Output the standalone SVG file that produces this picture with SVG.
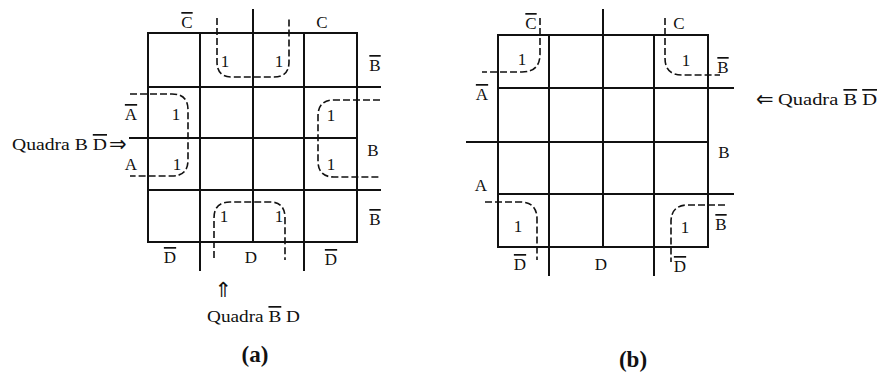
<svg xmlns="http://www.w3.org/2000/svg" width="880" height="377" viewBox="0 0 880 377">
<style>
.g{stroke:#111;stroke-width:2;fill:none;stroke-linecap:square}
.d{stroke:#111;stroke-width:1.6;fill:none;stroke-dasharray:7 3}
text{font-family:"Liberation Serif","DejaVu Serif",serif;font-size:17px;fill:#111}
.c{text-anchor:middle}
.o{text-decoration:overline}
.ar{font-family:"DejaVu Sans",sans-serif;font-size:21px}
.cap{font-size:23px;font-weight:bold}
</style>
<rect width="880" height="377" fill="#fff"/>
<g id="map-a">
  <g id="grid-a">
    <path class="g" d="M148,33H357V242H148Z M200,33V270 M253,10V242 M304,33V270 M148,87H380 M130,138H357 M148,190H380"/>
  </g>
  <g id="loops-a">
    <path class="d" d="M217,18V62Q217,77 232,77H274Q289,77 289,62V18"/>
    <path class="d" d="M130,94H172Q188,94 188,110V160Q188,176 172,176H130"/>
    <path class="d" d="M380,100H334Q318,100 318,116V161Q318,177 334,177H380"/>
    <path class="d" d="M214,258V218Q214,202 230,202H270Q285,202 285,218V260"/>
  </g>
  <g id="labels-a">
    <text class="c o" x="187" y="28">C</text>
    <text class="c" x="322" y="28">C</text>
    <text class="c o" x="375" y="71">B</text>
    <text class="c" x="373" y="156">B</text>
    <text class="c o" x="375" y="225">B</text>
    <text class="c o" x="131" y="120">A</text>
    <text class="c" x="131" y="170">A</text>
    <text class="c o" x="170" y="263">D</text>
    <text class="c" x="251" y="263">D</text>
    <text class="c o" x="331" y="265">D</text>
    <text class="c" x="225" y="67">1</text>
    <text class="c" x="279" y="67">1</text>
    <text class="c" x="176" y="120">1</text>
    <text class="c" x="331" y="121">1</text>
    <text class="c" x="177" y="170">1</text>
    <text class="c" x="331" y="170">1</text>
    <text class="c" x="224" y="222">1</text>
    <text class="c" x="279" y="222">1</text>
    <text x="12" y="150" textLength="95" lengthAdjust="spacingAndGlyphs">Quadra B <tspan class="o">D</tspan></text>
    <text class="ar" x="109" y="151">⇒</text>
    <text class="c ar" x="223" y="297">⇑</text>
    <text x="207" y="322" textLength="93" lengthAdjust="spacingAndGlyphs">Quadra <tspan class="o">B</tspan> D</text>
    <text class="c cap" x="255" y="362">(a)</text>
  </g>
</g>
<g id="map-b">
  <g id="grid-b">
    <path class="g" d="M498,35H708V247H498Z M549,35V275 M603,10V247 M654,35V275 M498,88H733 M467,142H708 M498,194H733"/>
  </g>
  <g id="loops-b">
    <path class="d" d="M540,18V54Q540,72 522,72H482"/>
    <path class="d" d="M665,18V58Q665,75 682,75H720"/>
    <path class="d" d="M485,202H520Q537,202 537,219V260"/>
    <path class="d" d="M725,205H688Q671,205 671,222V262"/>
  </g>
  <g id="labels-b">
    <text class="c o" x="531" y="29">C</text>
    <text class="c" x="679" y="29">C</text>
    <text class="c o" x="723" y="73">B</text>
    <text class="c" x="724" y="158">B</text>
    <text class="c o" x="721" y="230">B</text>
    <text class="c o" x="482" y="100">A</text>
    <text class="c" x="481" y="191">A</text>
    <text class="c o" x="520" y="270">D</text>
    <text class="c" x="601" y="270">D</text>
    <text class="c o" x="680" y="272">D</text>
    <text class="c" x="522" y="65">1</text>
    <text class="c" x="686" y="66">1</text>
    <text class="c" x="518" y="232">1</text>
    <text class="c" x="685" y="233">1</text>
    <text class="ar" x="756" y="106">⇐</text>
    <text x="778" y="105" textLength="99" lengthAdjust="spacingAndGlyphs">Quadra <tspan class="o">B</tspan> <tspan class="o">D</tspan></text>
    <text class="c cap" x="633" y="367">(b)</text>
  </g>
</g>
</svg>
